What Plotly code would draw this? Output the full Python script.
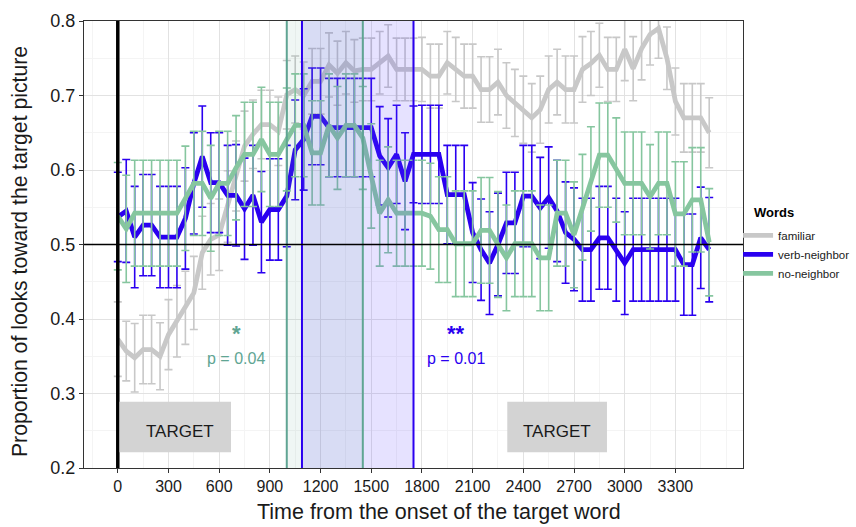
import plotly.graph_objects as go

# ---- data ----
time_ms = [0, 50, 100, 150, 200, 250, 300, 350, 400, 450, 500, 550, 600, 650, 700, 750,
           800, 850, 900, 950, 1000, 1050, 1100, 1150, 1200, 1250, 1300, 1350, 1400, 1450,
           1500, 1550, 1600, 1650, 1700, 1750, 1800, 1850, 1900, 1950, 2000, 2050, 2100,
           2150, 2200, 2250, 2300, 2350, 2400, 2450, 2500, 2550, 2600, 2650, 2700, 2750,
           2800, 2850, 2900, 2950, 3000, 3050, 3100, 3150, 3200, 3250, 3300, 3350, 3400,
           3450, 3500]

familiar = [0.373, 0.357, 0.348, 0.359, 0.359, 0.350, 0.379, 0.397, 0.415, 0.435, 0.489,
            0.507, 0.513, 0.551, 0.592, 0.632, 0.648, 0.661, 0.661, 0.652, 0.701, 0.708,
            0.700, 0.719, 0.719, 0.741, 0.730, 0.744, 0.733, 0.735, 0.735, 0.744, 0.753,
            0.735, 0.735, 0.735, 0.735, 0.726, 0.726, 0.744, 0.735, 0.726, 0.726, 0.708,
            0.708, 0.718, 0.700, 0.690, 0.681, 0.670, 0.681, 0.708, 0.718, 0.708, 0.708,
            0.735, 0.743, 0.754, 0.735, 0.735, 0.762, 0.736, 0.763, 0.782, 0.790, 0.750,
            0.692, 0.670, 0.670, 0.670, 0.650]
familiar_se = [0.050, 0.040, 0.046, 0.046, 0.046, 0.045, 0.047, 0.048, 0.049, 0.049, 0.049,
               0.048, 0.048, 0.048, 0.047, 0.047, 0.046, 0.046, 0.046, 0.046, 0.046, 0.045,
               0.045, 0.044, 0.044, 0.043, 0.043, 0.042, 0.042, 0.042, 0.042, 0.042, 0.042,
               0.042, 0.042, 0.042, 0.043, 0.043, 0.043, 0.042, 0.043, 0.043, 0.043, 0.044,
               0.044, 0.044, 0.044, 0.045, 0.045, 0.046, 0.045, 0.045, 0.044, 0.045, 0.045,
               0.044, 0.043, 0.043, 0.043, 0.043, 0.042, 0.043, 0.042, 0.041, 0.040, 0.042,
               0.045, 0.046, 0.046, 0.046, 0.047]

verb_neighbor = [0.537, 0.545, 0.510, 0.526, 0.526, 0.510, 0.510, 0.510, 0.535, 0.582, 0.618,
                 0.583, 0.583, 0.566, 0.566, 0.548, 0.566, 0.530, 0.547, 0.547, 0.565, 0.627,
                 0.641, 0.672, 0.672, 0.657, 0.657, 0.657, 0.657, 0.657, 0.657, 0.619, 0.603,
                 0.621, 0.585, 0.621, 0.621, 0.621, 0.621, 0.567, 0.567, 0.567, 0.516, 0.493,
                 0.475, 0.500, 0.529, 0.529, 0.565, 0.565, 0.549, 0.563, 0.545, 0.516, 0.507,
                 0.493, 0.493, 0.509, 0.509, 0.493, 0.475, 0.493, 0.493, 0.493, 0.493, 0.493,
                 0.493, 0.473, 0.473, 0.509, 0.493]
verb_neighbor_se = [0.060, 0.069, 0.068, 0.068, 0.068, 0.068, 0.068, 0.068, 0.068, 0.068, 0.068,
                    0.067, 0.067, 0.067, 0.068, 0.068, 0.067, 0.068, 0.068, 0.068, 0.068, 0.067,
                    0.068, 0.065, 0.065, 0.066, 0.066, 0.066, 0.066, 0.066, 0.066, 0.066, 0.066,
                    0.066, 0.065, 0.065, 0.066, 0.066, 0.066, 0.066, 0.066, 0.066, 0.067, 0.068,
                    0.069, 0.069, 0.068, 0.068, 0.068, 0.068, 0.068, 0.068, 0.068, 0.068, 0.069,
                    0.069, 0.069, 0.069, 0.069, 0.069, 0.069, 0.069, 0.069, 0.069, 0.069, 0.069,
                    0.069, 0.068, 0.068, 0.068, 0.070]

no_neighbor = [0.538, 0.521, 0.542, 0.542, 0.542, 0.542, 0.542, 0.542, 0.562, 0.582, 0.582,
               0.562, 0.582, 0.582, 0.603, 0.621, 0.621, 0.641, 0.621, 0.621, 0.641, 0.660,
               0.660, 0.623, 0.623, 0.660, 0.643, 0.660, 0.660, 0.643, 0.592, 0.542, 0.560,
               0.542, 0.542, 0.542, 0.542, 0.538, 0.520, 0.520, 0.501, 0.501, 0.501, 0.519,
               0.519, 0.500, 0.482, 0.501, 0.501, 0.501, 0.482, 0.482, 0.542, 0.542, 0.513,
               0.550, 0.588, 0.620, 0.620, 0.600, 0.582, 0.582, 0.582, 0.564, 0.582, 0.582,
               0.541, 0.541, 0.560, 0.560, 0.503]
no_neighbor_se = [0.072, 0.072, 0.071, 0.071, 0.071, 0.071, 0.071, 0.071, 0.070, 0.070, 0.070,
                  0.071, 0.070, 0.070, 0.070, 0.070, 0.070, 0.070, 0.070, 0.070, 0.069, 0.069,
                  0.069, 0.070, 0.070, 0.069, 0.069, 0.069, 0.069, 0.069, 0.070, 0.071, 0.071,
                  0.071, 0.071, 0.071, 0.071, 0.071, 0.071, 0.071, 0.071, 0.071, 0.071, 0.071,
                  0.071, 0.071, 0.071, 0.071, 0.071, 0.071, 0.071, 0.071, 0.071, 0.071, 0.071,
                  0.071, 0.070, 0.070, 0.070, 0.070, 0.069, 0.069, 0.069, 0.070, 0.069, 0.069,
                  0.070, 0.070, 0.070, 0.070, 0.072]

series_names = ["familiar", "verb-neighbor", "no-neighbor"]
legend_title = "Words"
x_title = "Time from the onset of the target word"
y_title = "Proportion of looks toward the target picture"
x_ticks = [0, 300, 600, 900, 1200, 1500, 1800, 2100, 2400, 2700, 3000, 3300]
y_ticks = [0.2, 0.3, 0.4, 0.5, 0.6, 0.7, 0.8]

green_window = [1000, 1450]
blue_window = [1090, 1750]
target_boxes = [[10, 670], [2305, 2895]]
target_text_x = [370, 2598]

# ---- styles ----
GRAY = "#c8c8c8"
BLUE = "#2a00f0"
GREEN = "#86c69f"
TEAL = "#60a593"
FONT = "Liberation Sans, Arial, sans-serif"

fig = go.Figure()

for name, ys, se, col in [
    (series_names[0], familiar, familiar_se, GRAY),
    (series_names[1], verb_neighbor, verb_neighbor_se, BLUE),
    (series_names[2], no_neighbor, no_neighbor_se, GREEN),
]:
    fig.add_trace(go.Scatter(
        x=time_ms, y=ys, name=name, mode="lines",
        line=dict(color=col, width=4.8),
        error_y=dict(type="data", array=se, visible=True, color=col,
                     thickness=1.6, width=4),
    ))

shapes = []
# shaded windows
shapes.append(dict(type="rect", xref="x", yref="paper", x0=blue_window[0], x1=blue_window[1],
                   y0=0, y1=1, fillcolor="rgba(90,60,255,0.15)", line=dict(width=0),
                   layer="above"))
shapes.append(dict(type="rect", xref="x", yref="paper", x0=green_window[0], x1=green_window[1],
                   y0=0, y1=1, fillcolor="rgba(100,170,150,0.10)", line=dict(width=0),
                   layer="above"))
for xv in green_window:
    shapes.append(dict(type="line", xref="x", yref="paper", x0=xv, x1=xv, y0=0, y1=1,
                       line=dict(color=TEAL, width=2), layer="above"))
for xv in blue_window:
    shapes.append(dict(type="line", xref="x", yref="paper", x0=xv, x1=xv, y0=0, y1=1,
                       line=dict(color=BLUE, width=2), layer="above"))
# reference lines
shapes.append(dict(type="line", xref="x", yref="paper", x0=0, x1=0, y0=0, y1=1,
                   line=dict(color="black", width=3.5), layer="above"))
shapes.append(dict(type="line", xref="paper", yref="y", x0=0, x1=1, y0=0.5, y1=0.5,
                   line=dict(color="black", width=1.3), layer="above"))
# TARGET boxes
for bx in target_boxes:
    shapes.append(dict(type="rect", xref="x", yref="y", x0=bx[0], x1=bx[1], y0=0.221, y1=0.289,
                       fillcolor="#d3d3d3", line=dict(width=0), layer="above"))

annotations = []
for tx in target_text_x:
    annotations.append(dict(x=tx, y=0.249, xref="x", yref="y", text="TARGET", showarrow=False,
                            font=dict(family=FONT, size=17, color="#1a1a1a")))
annotations += [
    dict(x=700, y=0.3805, text="<b>*</b>", showarrow=False,
         font=dict(family=FONT, size=22, color=TEAL)),
    dict(x=700, y=0.3475, text="p = 0.04", showarrow=False,
         font=dict(family=FONT, size=16, color=TEAL)),
    dict(x=2000, y=0.3805, text="<b>**</b>", showarrow=False,
         font=dict(family=FONT, size=22, color=BLUE)),
    dict(x=2000, y=0.3475, text="p = 0.01", showarrow=False,
         font=dict(family=FONT, size=16, color=BLUE)),
    # legend title
    dict(x=1.0137, y=0.5727, xref="paper", yref="paper", xanchor="left", yanchor="middle",
         text="<b>" + legend_title + "</b>", showarrow=False,
         font=dict(family=FONT, size=13, color="black")),
    # axis titles
    dict(x=0.5387, y=-0.0975, xref="paper", yref="paper", xanchor="center", yanchor="middle",
         text=x_title, showarrow=False, font=dict(family=FONT, size=21.5, color="#1a1a1a")),
    dict(x=-0.0971, y=0.4832, xref="paper", yref="paper", xanchor="center", yanchor="middle",
         text=y_title, textangle=-90, showarrow=False,
         font=dict(family=FONT, size=21.2, color="#1a1a1a")),
]

fig.update_layout(
    width=856, height=527,
    margin=dict(l=84, r=113, t=21, b=59, autoexpand=False),
    paper_bgcolor="white", plot_bgcolor="white",
    font=dict(family=FONT, color="#1a1a1a"),
    shapes=shapes, annotations=annotations,
    legend=dict(x=0.9925, xanchor="left", y=0.553, yanchor="top",
                font=dict(size=11.5, color="#1a1a1a"), tracegroupgap=0,
                itemwidth=30, bgcolor="rgba(0,0,0,0)"),
)
fig.update_xaxes(
    range=[-200, 3700], tickvals=x_ticks, ticks="outside", ticklen=4, tickcolor="#333",
    tickfont=dict(size=16, color="#1a1a1a"),
    showline=True, mirror=True, linecolor="#333", linewidth=1,
    showgrid=True, gridcolor="#e2e2e2", gridwidth=1, zeroline=False,
    minor=dict(dtick=150, tick0=-150, showgrid=True, gridcolor="#f4f4f4", ticks=""),
)
fig.update_yaxes(
    range=[0.2, 0.8], tickvals=y_ticks, tickformat=".1f", ticks="outside", ticklen=4,
    tickcolor="#333", tickfont=dict(size=18, color="#1a1a1a"),
    showline=True, mirror=True, linecolor="#333", linewidth=1,
    showgrid=True, gridcolor="#e2e2e2", gridwidth=1, zeroline=False,
    minor=dict(dtick=0.05, tick0=0.25, showgrid=True, gridcolor="#f4f4f4", ticks=""),
)

fig.write_html("out.html")
